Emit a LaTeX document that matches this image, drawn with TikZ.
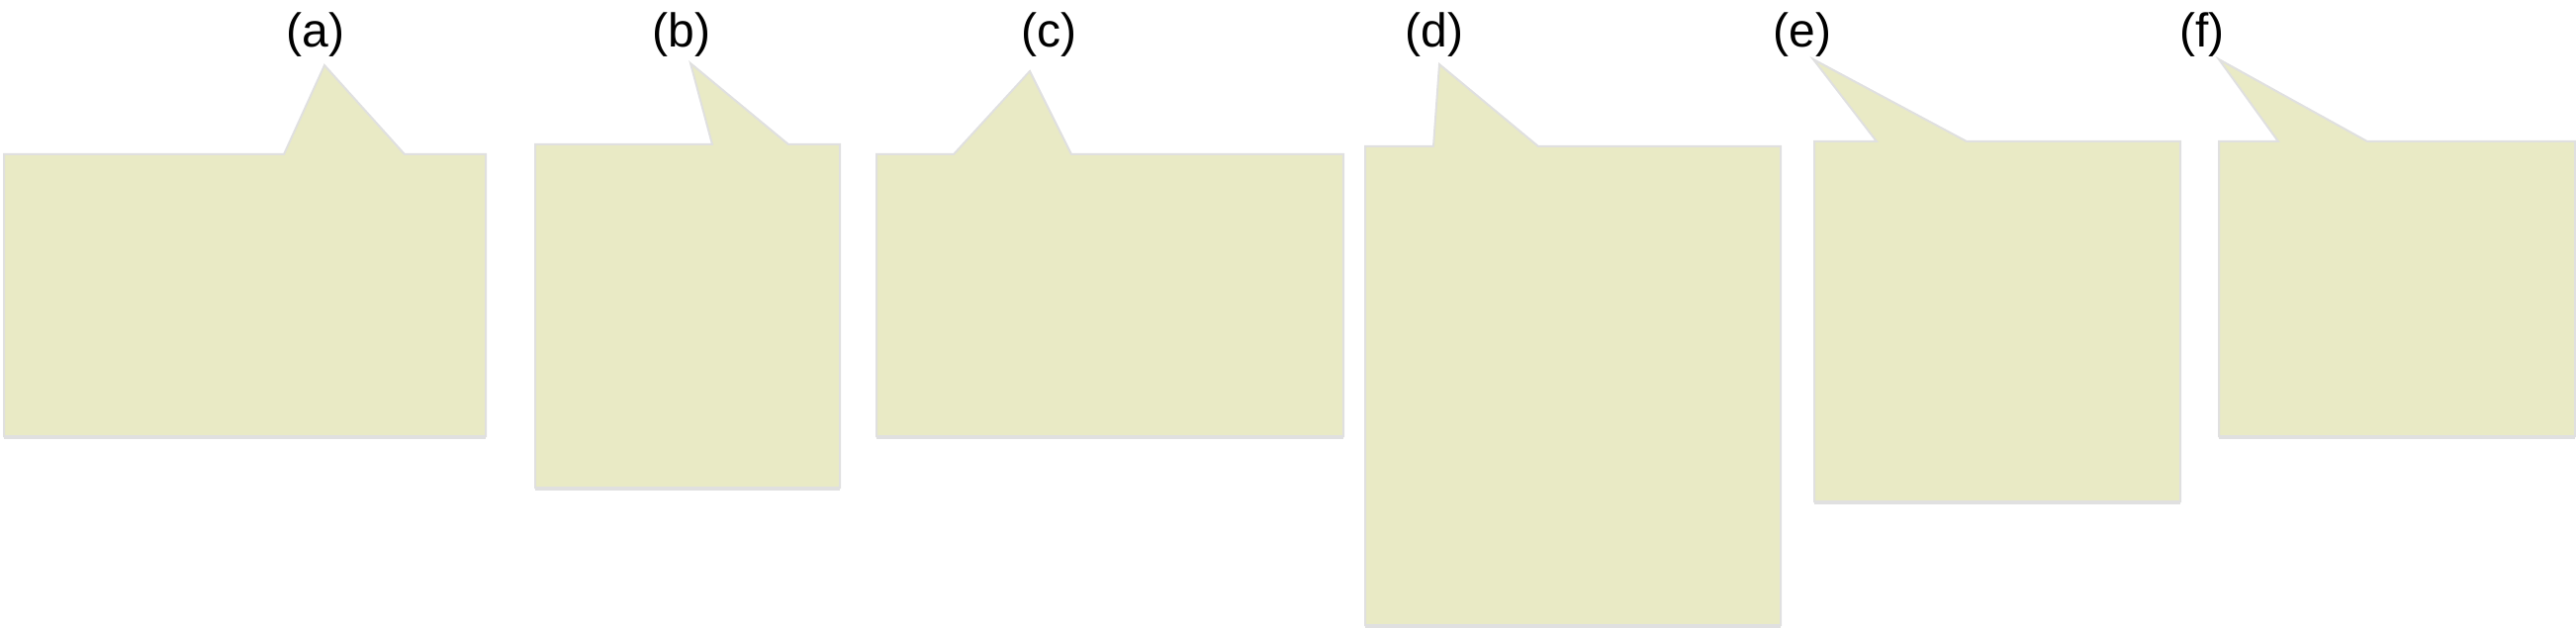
\documentclass[tikz,border=0pt]{standalone}
\usepackage{fontspec}
\setmainfont{Liberation Sans}
\definecolor{calloutfill}{RGB}{233,234,197}
\definecolor{calloutedge}{RGB}{224,224,224}
\tikzset{
  callout/.style={fill=calloutfill, draw=calloutedge, line width=2pt, line join=miter},
  shadowline/.style={draw=calloutedge, line width=3pt},
  lbl/.style={anchor=base, inner sep=0pt, font=\fontsize{48}{54}\selectfont}
}
\begin{document}
\begin{tikzpicture}[x=1pt,y=-1pt]
\useasboundingbox (0,0) rectangle (2604,636);
% labels
\node[lbl] (la) at (319,48) {(a)};
\node[lbl] (lb) at (689,48) {(b)};
\node[lbl] (lc) at (1060,48) {(c)};
\node[lbl] (ld) at (1450,48) {(d)};
\node[lbl] (le) at (1822,48) {(e)};
\node[lbl] (lf) at (2226,48) {(f)};
% tips
\coordinate (ta) at (328,66);
\coordinate (tb) at (698,64);
\coordinate (tc) at (1041,72);
\coordinate (td) at (1455,65);
\coordinate (te) at (1833,60);
\coordinate (tf) at (2243,60);
% callouts
\draw[callout] (4,156) -- (287,156) -- (ta) -- (409,156) -- (491,156) -- (491,441) -- (4,441) -- cycle;
\draw[shadowline] (4,442) -- (491,442);
\draw[callout] (541,146) -- (720,146) -- (tb) -- (797,146) -- (849,146) -- (849,493) -- (541,493) -- cycle;
\draw[shadowline] (541,494) -- (849,494);
\draw[callout] (886,156) -- (964,156) -- (tc) -- (1083,156) -- (1358,156) -- (1358,441) -- (886,441) -- cycle;
\draw[shadowline] (886,442) -- (1358,442);
\draw[callout] (1380,148) -- (1449,148) -- (td) -- (1555,148) -- (1800,148) -- (1800,632) -- (1380,632) -- cycle;
\draw[shadowline] (1380,633) -- (1800,633);
\draw[callout] (1834,143) -- (1897,143) -- (te) -- (1988,143) -- (2204,143) -- (2204,507) -- (1834,507) -- cycle;
\draw[shadowline] (1834,508) -- (2204,508);
\draw[callout] (2243,143) -- (2303,143) -- (tf) -- (2393,143) -- (2603,143) -- (2603,441) -- (2243,441) -- cycle;
\draw[shadowline] (2243,442) -- (2603,442);
\end{tikzpicture}
\end{document}
